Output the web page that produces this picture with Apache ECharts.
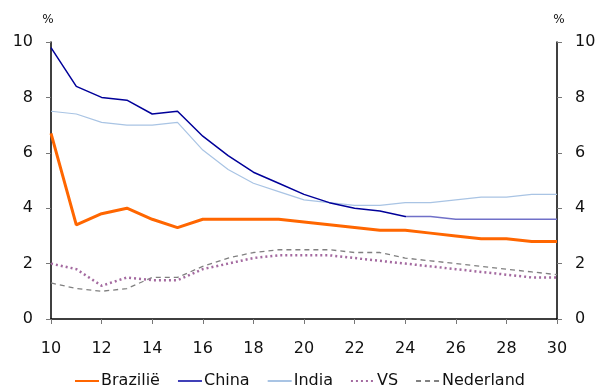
<!DOCTYPE html>
<html><head><meta charset="utf-8">
<script src="https://cdn.jsdelivr.net/npm/echarts@6/dist/echarts.min.js"></script>
<style>html,body{margin:0;padding:0;background:#fff}#c{width:599px;height:391px}</style>
</head><body><div id="c"></div>
<script>
const years = [10,11,12,13,14,15,16,17,18,19,20,21,22,23,24,25,26,27,28,29,30];
const brazil = [6.7,3.4,3.8,4.0,3.6,3.3,3.6,3.6,3.6,3.6,3.5,3.4,3.3,3.2,3.2,3.1,3.0,2.9,2.9,2.8,2.8];
const china = [9.8,8.4,8.0,7.9,7.4,7.5,6.6,5.9,5.3,4.9,4.5,4.2,4.0,3.9,3.7,3.7,3.6,3.6,3.6,3.6,3.6];
const india = [7.5,7.4,7.1,7.0,7.0,7.1,6.1,5.4,4.9,4.6,4.3,4.2,4.1,4.1,4.2,4.2,4.3,4.4,4.4,4.5,4.5];
const vs = [2.0,1.8,1.2,1.5,1.4,1.4,1.8,2.0,2.2,2.3,2.3,2.3,2.2,2.1,2.0,1.9,1.8,1.7,1.6,1.5,1.5];
const nederland = [1.3,1.1,1.0,1.1,1.5,1.5,1.9,2.2,2.4,2.5,2.5,2.5,2.4,2.4,2.2,2.1,2.0,1.9,1.8,1.7,1.6];
const chinaLightFrom = 24;

const pts = arr => years.map((y,i)=>[y,arr[i]]);
const font = 'DejaVu Sans, Verdana, sans-serif';
const chart = echarts.init(document.getElementById('c'));
const yAxisCommon = {
  type:'value', min:0, max:10, interval:2,
  axisLine:{show:true,lineStyle:{color:'#000',width:1.5}},
  axisTick:{show:true,length:5,lineStyle:{color:'#777'}},
  splitLine:{show:false},
  axisLabel:{color:'#111',fontSize:16,fontFamily:font,margin:18},
  name:'%', nameGap:16
};
chart.setOption({
  animation:false,
  grid:{left:51,right:42,top:42,bottom:72},
  xAxis:{type:'value',min:10,max:30,interval:2,
    axisLine:{lineStyle:{color:'#000',width:1.5},onZero:false},
    axisTick:{show:true,length:5,lineStyle:{color:'#777'}},
    splitLine:{show:false},
    axisLabel:{color:'#111',fontSize:16,fontFamily:font,margin:22}},
  yAxis:[Object.assign({},yAxisCommon,{position:'left',nameTextStyle:{color:'#111',fontSize:12,fontFamily:font,padding:[0,0,0,-6]}}),
         Object.assign({},yAxisCommon,{position:'right',nameTextStyle:{color:'#111',fontSize:12,fontFamily:font,padding:[0,0,0,4]}})],
  legend:{top:368,left:'center',itemWidth:24,itemHeight:12,itemGap:17,
    itemStyle:{opacity:0},
    textStyle:{color:'#111',fontSize:16,fontFamily:font,padding:[0,0,0,-3]},
    data:['Brazilië',{name:'China',lineStyle:{color:'#4040b8'}},'India','VS','Nederland']},
  series:[
    {name:'Brazilië',type:'line',data:pts(brazil),showSymbol:false,symbol:'none',z:5,
      lineStyle:{color:'#FF6600',width:3},itemStyle:{color:'#FF6600'}},
    {name:'China',type:'line',data:pts(china),showSymbol:false,symbol:'none',z:4,
      lineStyle:{color:'#000099',width:1.5},itemStyle:{color:'#3a3ab0'}},
    {name:'India',type:'line',data:pts(india),showSymbol:false,symbol:'none',z:3,
      lineStyle:{color:'#a9c4e4',width:1.2},itemStyle:{color:'#a9c4e4'}},
    {name:'VS',type:'line',data:pts(vs),showSymbol:false,symbol:'none',z:3,
      lineStyle:{color:'#a46aa0',width:2.5,type:[2,3]},itemStyle:{color:'#a46aa0'}},
    {name:'Nederland',type:'line',data:pts(nederland),showSymbol:false,symbol:'none',z:2,
      lineStyle:{color:'#808080',width:1.3,type:[5,4]},itemStyle:{color:'#808080'}}
  ]
});
// China line: darker before the split year, lighter after (colour stop placed via the axis scale)
const x0 = chart.convertToPixel({xAxisIndex:0}, years[0]);
const x1 = chart.convertToPixel({xAxisIndex:0}, years[years.length-1]);
const xs = chart.convertToPixel({xAxisIndex:0}, chinaLightFrom);
const f = (xs - x0) / (x1 - x0);
chart.setOption({series:[{},{lineStyle:{color:new echarts.graphic.LinearGradient(0,0,1,0,[
  {offset:0,color:'#000099'},{offset:f,color:'#000099'},{offset:f,color:'#7070c8'},{offset:1,color:'#7070c8'}])}}]});
</script></body></html>
